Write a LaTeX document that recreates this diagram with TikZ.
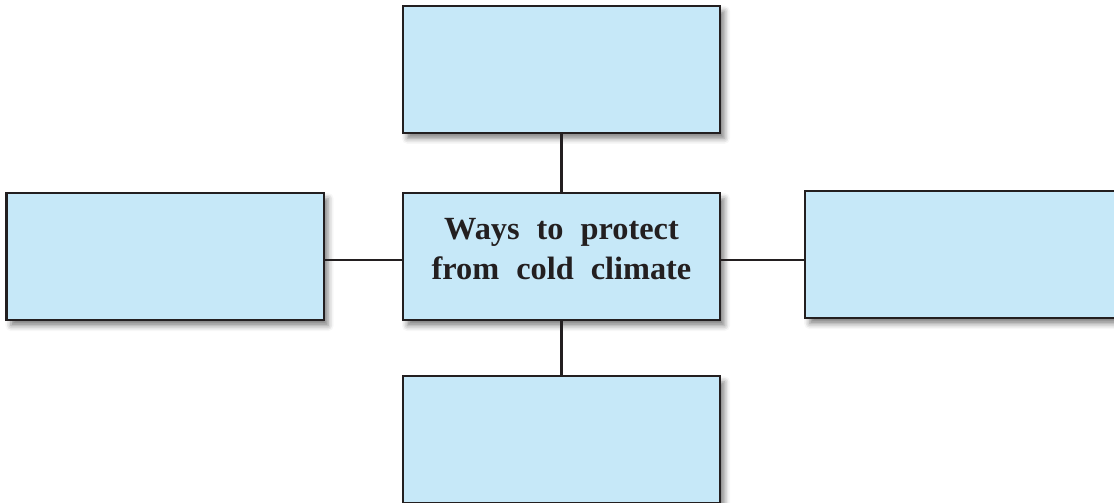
\documentclass[tikz,border=0pt]{standalone}
\usepackage{fontspec}
\setmainfont{Liberation Serif}[WordSpace=2.1]
\usetikzlibrary{positioning,shadows.blur}
\definecolor{boxfill}{HTML}{C6E8F8}
\definecolor{boxline}{HTML}{231F20}
\begin{document}
\begin{tikzpicture}[x=0.025cm,y=-0.025cm,
    box/.style={draw=boxline,fill=boxfill,line width=1.6pt,
        minimum width=7.925cm,minimum height=3.175cm,inner sep=0pt,
        blur shadow={shadow xshift=0.11cm,shadow yshift=-0.14cm,shadow opacity=50,shadow blur radius=0.14cm}},
    title/.style={align=center,font=\fontsize{23}{29}\selectfont\bfseries,text=boxline,text depth=0.38cm},
    link/.style={draw=boxline,line width=1.6pt}]
	\useasboundingbox (0,0) rectangle (1114,503);
	\clip (0,0) rectangle (1114,503);
	% centre and the four empty boxes
	\node[box,title] (ways) at (561.5,256.5) {Ways to protect\\from cold climate};
	\node[box,above=1.45cm of ways] (top) {};
	\node[box,below=1.35cm of ways] (bottom) {};
	\node[box,left=1.925cm of ways] (left) {};
	\node[box,right=2.075cm of ways,yshift=0.05cm] (right) {};
	% connectors
	\draw[link] (top) -- (ways);
	\draw[link] (ways) -- (bottom);
	\draw[link] ([yshift=-0.08cm]left.east) -- ([yshift=-0.08cm]ways.west);
	\draw[link] ([yshift=-0.08cm]ways.east) -- ([yshift=-0.08cm]right.west |- ways);
\end{tikzpicture}
\end{document}
